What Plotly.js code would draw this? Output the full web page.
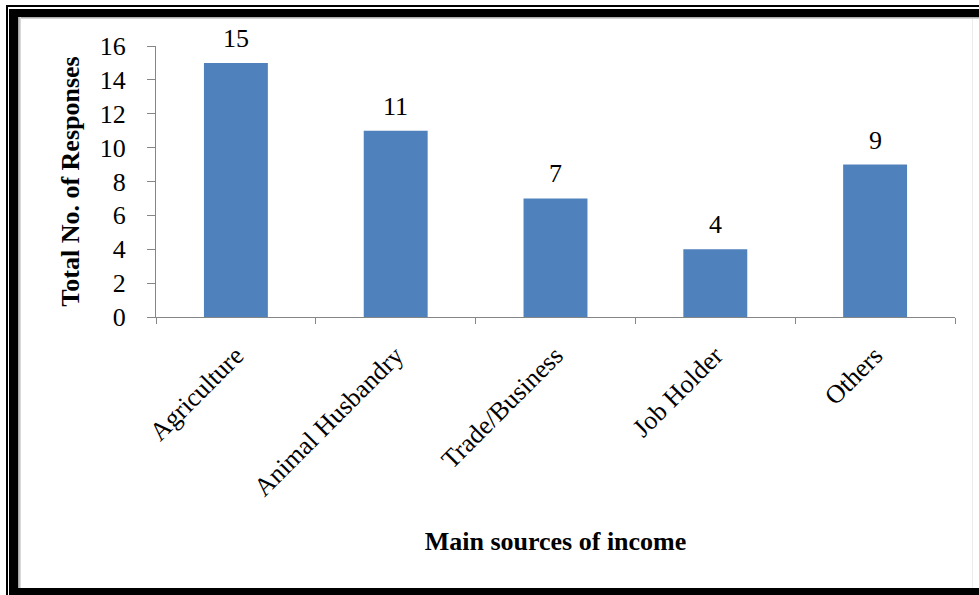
<!DOCTYPE html>
<html>
<head>
<meta charset="utf-8">
<script src="https://cdn.plot.ly/plotly-3.0.1.min.js"></script>
<style>
  html, body { margin: 0; padding: 0; background: #ffffff; }
  #wrap { position: relative; width: 979px; height: 595px; overflow: hidden; background: #ffffff; }
  #chart { position: absolute; left: 0; top: 0; width: 979px; height: 595px; }
  .fr { position: absolute; background: #000000; }
  .sh { position: absolute; }
</style>
</head>
<body>
<div id="wrap">
  <div id="chart"></div>
  <!-- double black frame with a soft inner shadow -->
  <div class="fr" style="left:6px; top:5px; right:0; height:2px;"></div>
  <div class="fr" style="left:6px; top:5px; width:2px; bottom:0;"></div>
  <div class="fr" style="left:9px; top:9px; right:0; height:8px;"></div>
  <div class="fr" style="left:9px; top:9px; width:9px; bottom:0;"></div>
  <div class="fr" style="left:9px; top:588px; right:0; height:7px;"></div>
  <div class="sh" style="left:18px; top:17px; right:0; height:2px; background:linear-gradient(#9a9a9a,#e6e6e6);"></div>
  <div class="sh" style="left:18px; top:17px; width:3px; bottom:7px; background:linear-gradient(90deg,#9a9a9a,#e6e6e6);"></div>
  <div class="sh" style="left:972px; top:19px; width:1px; bottom:7px; background:#ececec;"></div>
</div>
<script>
// Main sources of income and the number of responses for each
const categories = ["Agriculture", "Animal Husbandry", "Trade/Business", "Job Holder", "Others"];
const responses = [15, 11, 7, 4, 9];
const yTicks = [0, 2, 4, 6, 8, 10, 12, 14, 16];

const serif = "'Liberation Serif', 'Times New Roman', serif";
const axisGray = "#868686";
const fontSize = 26;

const trace = {
  type: "bar",
  x: categories,
  y: responses,
  width: 0.4,
  marker: { color: "#4F81BD", line: { width: 0 } },
  hoverinfo: "skip"
};

// value labels sit a little above each bar top
const valueLabels = categories.map((c, i) => ({
  x: c,
  y: responses[i],
  xref: "x",
  yref: "y",
  text: String(responses[i]),
  showarrow: false,
  yanchor: "bottom",
  yshift: 8,
  font: { family: serif, size: fontSize, color: "#000000" }
}));

const layout = {
  width: 979,
  height: 595,
  margin: { l: 156, r: 24, t: 46, b: 278 },
  paper_bgcolor: "rgba(0,0,0,0)",
  plot_bgcolor: "rgba(0,0,0,0)",
  showlegend: false,
  annotations: valueLabels,
  xaxis: {
    type: "category",
    tickmode: "array",
    tickvals: categories,
    ticktext: categories,
    tickson: "boundaries",
    ticks: "outside",
    ticklen: 6,
    tickcolor: axisGray,
    tickwidth: 1,
    showline: true,
    linecolor: axisGray,
    linewidth: 1,
    showgrid: false,
    zeroline: false,
    tickangle: -45,
    ticklabelstandoff: 12,
    tickfont: { family: serif, size: fontSize, color: "#000000" },
    automargin: false,
    title: {
      text: "<b>Main sources of income</b>",
      font: { family: serif, size: fontSize, color: "#000000" },
      standoff: 30
    }
  },
  yaxis: {
    range: [0, 16],
    tickmode: "array",
    tickvals: yTicks,
    ticktext: yTicks.map(String),
    ticks: "outside",
    ticklen: 8,
    tickcolor: axisGray,
    tickwidth: 1,
    showline: true,
    linecolor: axisGray,
    linewidth: 1,
    showgrid: false,
    zeroline: false,
    ticklabelstandoff: 16,
    tickfont: { family: serif, size: fontSize, color: "#000000" },
    automargin: false,
    title: {
      text: "<b>Total No. of Responses</b>",
      font: { family: serif, size: fontSize, color: "#000000" },
      standoff: 12
    }
  }
};

Plotly.newPlot("chart", [trace], layout, { staticPlot: true, displayModeBar: false });
</script>
</body>
</html>
